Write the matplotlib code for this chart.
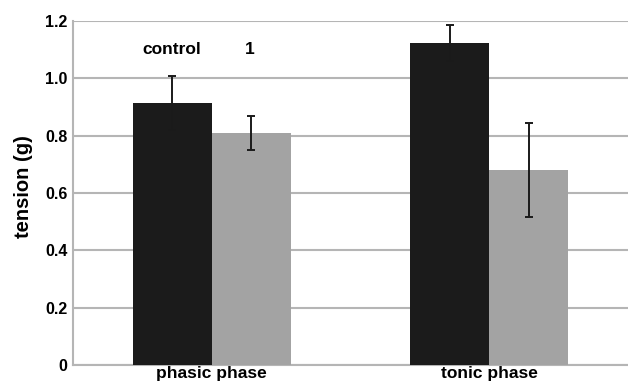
import matplotlib
matplotlib.use("Agg")
import matplotlib.pyplot as plt
import numpy as np

categories = ["phasic phase", "tonic phase"]
control_vals = [0.914, 1.123]
control_err = [0.095, 0.063]
treat_vals = [0.809, 0.680]
treat_err = [0.058, 0.163]
yticks = [0, 0.2, 0.4, 0.6, 0.8, 1.0, 1.2]
ytick_labels = ["0", "0.2", "0.4", "0.6", "0.8", "1.0", "1.2"]
series_names = ["control", "1"]

plt.rcParams['font.family'] = ['Liberation Sans', 'DejaVu Sans']

fig = plt.figure(figsize=(6.28, 3.88), dpi=100)
ax = fig.add_axes([73/628, 23/388, 1 - 73/628, (365-21)/388])

x = np.arange(len(categories))
w = 0.284
ekw = dict(elinewidth=1.4, capthick=1.4, ecolor='#1a1a1a')
ax.bar(x - w/2, control_vals, w, color='#1b1b1b', yerr=control_err, capsize=3, error_kw=ekw, zorder=3)
ax.bar(x + w/2, treat_vals, w, color='#a3a3a3', yerr=treat_err, capsize=3, error_kw=ekw, zorder=3)

ax.set_xlim(-0.5, 1.5)
ax.set_ylim(0, 1.2)
ax.set_yticks(yticks)
ax.set_yticklabels(ytick_labels, fontweight='bold', fontsize=11.5)
ax.set_xticks(x)
ax.set_xticklabels(categories, fontweight='bold', fontsize=12.5)
ax.tick_params(axis='both', length=0, pad=4)
ax.tick_params(axis='x', pad=1)
ax.grid(axis='y', color='#b5b5b5', linewidth=1.5, zorder=0)
for s in ['top', 'right']:
    ax.spines[s].set_visible(False)
ax.spines['left'].set_color('#b5b5b5')
ax.spines['left'].set_linewidth(1.5)
ax.spines['bottom'].set_color('#b5b5b5')
ax.spines['bottom'].set_linewidth(1.5)
ax.set_ylabel("tension (g)", fontweight='bold', fontsize=14.5)
ax.yaxis.set_label_coords(-0.072, 0.52)

ax.text(-0.144, 1.099, series_names[0], ha='center', va='center', fontweight='bold', fontsize=12.5)
ax.text(0.137, 1.099, series_names[1], ha='center', va='center', fontweight='bold', fontsize=12.5)

fig.savefig("out.png", dpi=100)
